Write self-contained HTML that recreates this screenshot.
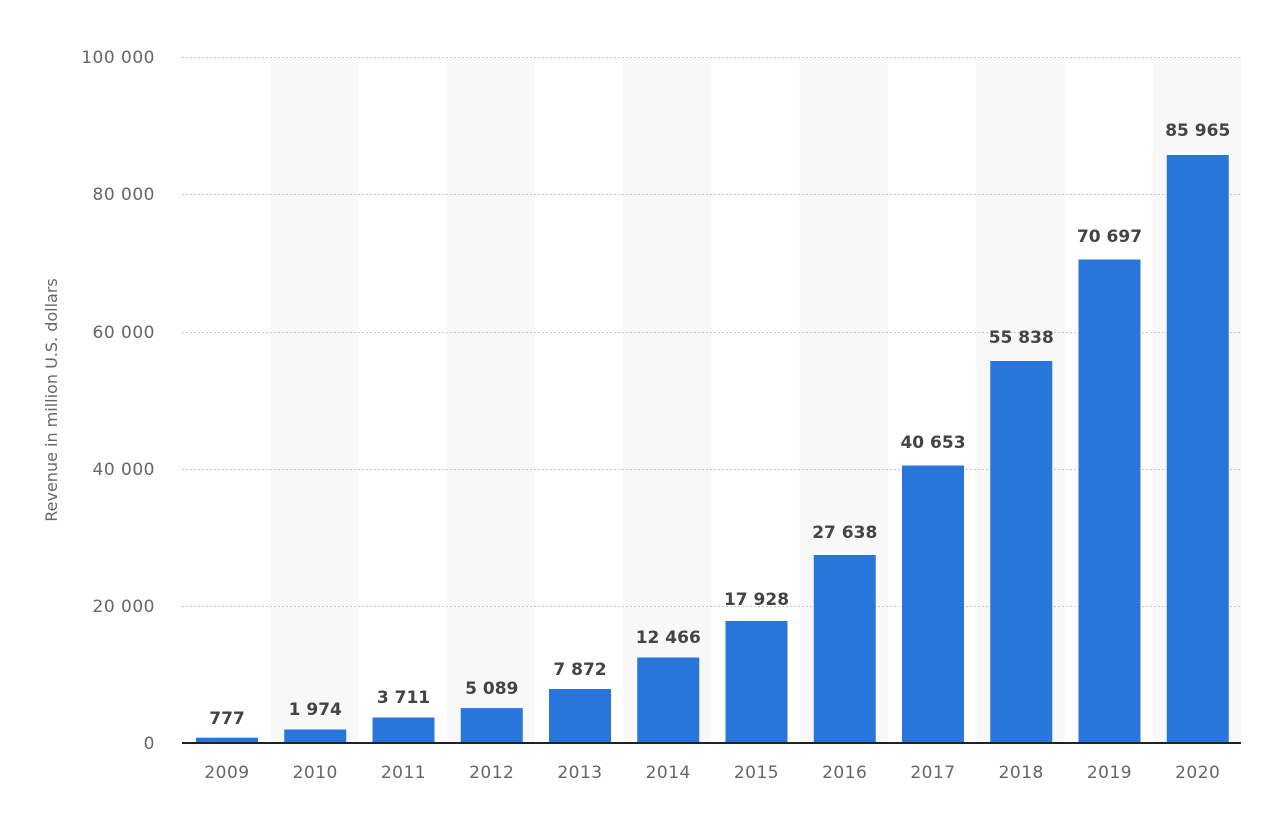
<!DOCTYPE html>
<html><head><meta charset="utf-8"><style>body{margin:0;background:#fff}</style></head><body>
<svg width="1267" height="809" xmlns="http://www.w3.org/2000/svg" font-family="DejaVu Sans, Liberation Sans, sans-serif">
<rect width="1267" height="809" fill="#fff"/>
<g fill="#f8f8f8">
<rect x="270.25" y="57" width="88.25" height="686"/>
<rect x="446.75" y="57" width="88.25" height="686"/>
<rect x="623.25" y="57" width="88.25" height="686"/>
<rect x="799.75" y="57" width="88.25" height="686"/>
<rect x="976.25" y="57" width="88.25" height="686"/>
<rect x="1152.75" y="57" width="88.25" height="686"/>
</g>
<g stroke="#c8c8c8" stroke-dasharray="2,2" stroke-width="1">
<line x1="182" x2="1241" y1="57.5" y2="57.5"/>
<line x1="182" x2="1241" y1="194.5" y2="194.5"/>
<line x1="182" x2="1241" y1="332.5" y2="332.5"/>
<line x1="182" x2="1241" y1="469.5" y2="469.5"/>
<line x1="182" x2="1241" y1="606.5" y2="606.5"/>
</g>
<g fill="#666" font-size="17" text-anchor="end" letter-spacing="0.5">
<text x="155" y="63">100 000</text>
<text x="155" y="200">80 000</text>
<text x="155" y="338">60 000</text>
<text x="155" y="475">40 000</text>
<text x="155" y="612">20 000</text>
<text x="155" y="749">0</text>
</g>
<text transform="translate(57,400) rotate(-90)" fill="#666" font-size="16" text-anchor="middle">Revenue in million U.S. dollars</text>
<g fill="#2875dc">
<rect x="196" y="737.7" width="62" height="5.3"/>
<rect x="284.25" y="729.5" width="62" height="13.5"/>
<rect x="372.5" y="717.5" width="62" height="25.5"/>
<rect x="460.75" y="708.1" width="62" height="34.9"/>
<rect x="549" y="689" width="62" height="54"/>
<rect x="637.25" y="657.5" width="62" height="85.5"/>
<rect x="725.5" y="621" width="62" height="122"/>
<rect x="813.75" y="555" width="62" height="188"/>
<rect x="902" y="465.5" width="62" height="277.5"/>
<rect x="990.25" y="361" width="62" height="382"/>
<rect x="1078.5" y="259.5" width="62" height="483.5"/>
<rect x="1166.75" y="155" width="62" height="588"/>
</g>
<line x1="182" x2="1241" y1="743" y2="743" stroke="#222" stroke-width="2"/>
<g fill="#444" font-size="17" font-weight="bold" text-anchor="middle">
<text x="227" y="724">777</text>
<text x="315.25" y="715">1 974</text>
<text x="403.5" y="703">3 711</text>
<text x="491.75" y="694">5 089</text>
<text x="580" y="675">7 872</text>
<text x="668.25" y="643">12 466</text>
<text x="756.5" y="605">17 928</text>
<text x="844.75" y="538">27 638</text>
<text x="933" y="448">40 653</text>
<text x="1021.25" y="343">55 838</text>
<text x="1109.5" y="242">70 697</text>
<text x="1197.75" y="136">85 965</text>
</g>
<g fill="#666" font-size="17" text-anchor="middle" letter-spacing="0.5">
<text x="227" y="778">2009</text>
<text x="315.25" y="778">2010</text>
<text x="403.5" y="778">2011</text>
<text x="491.75" y="778">2012</text>
<text x="580" y="778">2013</text>
<text x="668.25" y="778">2014</text>
<text x="756.5" y="778">2015</text>
<text x="844.75" y="778">2016</text>
<text x="933" y="778">2017</text>
<text x="1021.25" y="778">2018</text>
<text x="1109.5" y="778">2019</text>
<text x="1197.75" y="778">2020</text>
</g>
</svg>
</body></html>
